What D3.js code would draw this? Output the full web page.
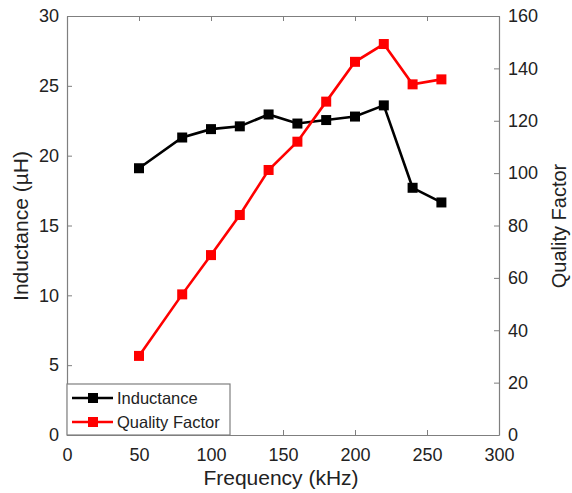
<!DOCTYPE html>
<html>
<head>
<meta charset="utf-8">
<script src="https://cdn.jsdelivr.net/npm/d3@7"></script>
<style>
  body { margin: 0; background: #fff; }
  svg text { font-family: "Liberation Sans", Arial, sans-serif; fill: #222; }
</style>
</head>
<body>
<svg id="chart" width="572" height="493"></svg>
<script>
// data
const frequency = [50, 80, 100, 120, 140, 160, 180, 200, 220, 240, 260];
const inductance = [19.1, 21.3, 21.9, 22.1, 22.95, 22.3, 22.55, 22.8, 23.6, 17.7, 16.65];
const qualityFactor = [30.2, 53.7, 68.7, 84, 101.2, 112, 127.3, 142.5, 149.3, 133.9, 135.8];
const xTicks = [0, 50, 100, 150, 200, 250, 300];
const leftTicks = [0, 5, 10, 15, 20, 25, 30];
const rightTicks = [0, 20, 40, 60, 80, 100, 120, 140, 160];

const svg = d3.select('#chart');
const plotLeft = 67, plotRight = 499, plotTop = 16, plotBottom = 435;
const axisColor = '#7f7f7f';

// scales
const x = d3.scaleLinear().domain([0, 300]).range([plotLeft, plotRight]);
const yL = d3.scaleLinear().domain([0, 30]).range([plotBottom, plotTop]);
const yR = d3.scaleLinear().domain([0, 160]).range([plotBottom, plotTop]);

// axes, ticks pointing inward like the original
const styleAxis = g => {
  g.selectAll('path').attr('stroke', axisColor).attr('stroke-width', 1.2);
  g.selectAll('line').attr('stroke', axisColor);
  g.selectAll('text').attr('font-size', 18).attr('fill', '#222');
};

svg.append('g')
  .attr('transform', `translate(0,${plotBottom})`)
  .call(d3.axisBottom(x).tickValues(xTicks).tickSizeInner(-5).tickSizeOuter(0).tickPadding(11))
  .call(styleAxis)
  .call(g => g.selectAll('text').attr('dy', '0.85em'));

svg.append('g')
  .attr('transform', `translate(0,${plotTop})`)
  .call(d3.axisTop(x).tickValues(xTicks).tickSizeInner(-5).tickSizeOuter(0).tickFormat(''))
  .call(styleAxis);

svg.append('g')
  .attr('transform', `translate(${plotLeft},0)`)
  .call(d3.axisLeft(yL).tickValues(leftTicks).tickSizeInner(-5).tickSizeOuter(0).tickPadding(8))
  .call(styleAxis);

svg.append('g')
  .attr('transform', `translate(${plotRight},0)`)
  .call(d3.axisRight(yR).tickValues(rightTicks).tickSizeInner(-5).tickSizeOuter(0).tickPadding(9))
  .call(styleAxis);

// axis titles
svg.append('text')
  .attr('x', 281).attr('y', 485)
  .attr('text-anchor', 'middle').attr('font-size', 21)
  .text('Frequency (kHz)');

svg.append('text')
  .attr('transform', `translate(28,226) rotate(-90)`)
  .attr('text-anchor', 'middle').attr('font-size', 21)
  .text('Inductance (µH)');

svg.append('text')
  .attr('transform', `translate(566,226) rotate(-90)`)
  .attr('text-anchor', 'middle').attr('font-size', 20)
  .text('Quality Factor');

// series
const series = [
  { name: 'Inductance', values: inductance, y: yL, color: '#000000' },
  { name: 'Quality Factor', values: qualityFactor, y: yR, color: '#ff0000' }
];

const plot = svg.append('g');
series.forEach(s => {
  const pts = frequency.map((f, i) => [f, s.values[i]]);
  plot.append('path')
    .datum(pts)
    .attr('fill', 'none')
    .attr('stroke', s.color)
    .attr('stroke-width', 2.6)
    .attr('d', d3.line().x(d => x(d[0])).y(d => s.y(d[1])));
  plot.selectAll(null)
    .data(pts)
    .enter()
    .append('rect')
    .attr('x', d => x(d[0]) - 5)
    .attr('y', d => s.y(d[1]) - 5)
    .attr('width', 10)
    .attr('height', 10)
    .attr('fill', s.color);
});

// legend box in the lower left corner
const legend = svg.append('g');
legend.append('rect')
  .attr('x', plotLeft).attr('y', 384)
  .attr('width', 163).attr('height', plotBottom - 384)
  .attr('fill', '#fff').attr('stroke', axisColor).attr('stroke-width', 1.2);

series.forEach((s, i) => {
  const ly = 398 + i * 24;
  legend.append('line')
    .attr('x1', 72).attr('x2', 113).attr('y1', ly).attr('y2', ly)
    .attr('stroke', s.color).attr('stroke-width', 2.6);
  legend.append('rect')
    .attr('x', 88).attr('y', ly - 5).attr('width', 10).attr('height', 10)
    .attr('fill', s.color);
  legend.append('text')
    .attr('x', 117).attr('y', ly).attr('dy', '0.35em')
    .attr('font-size', 16.5)
    .text(s.name);
});
</script>
</body>
</html>
